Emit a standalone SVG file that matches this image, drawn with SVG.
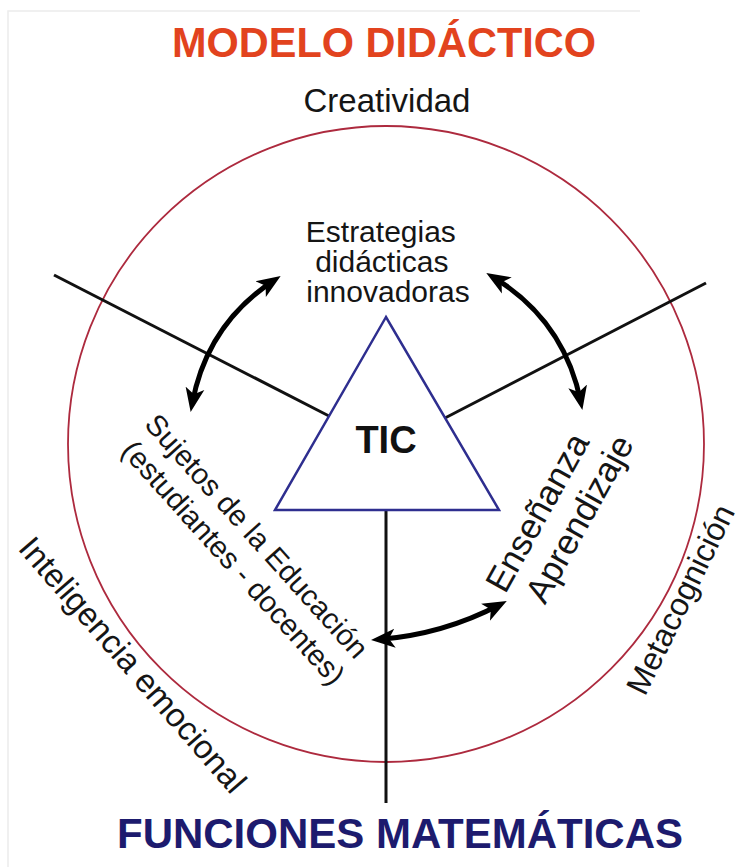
<svg xmlns="http://www.w3.org/2000/svg" width="747" height="867" viewBox="0 0 747 867">
  <style>
    .lbl { font-family: "Liberation Sans", Arial, sans-serif; fill: #151515; }
    .ttl { font-family: "Liberation Sans", Arial, sans-serif; font-weight: bold; }
    .spoke { stroke: #111; stroke-width: 3; fill: none; }
    .link { stroke: #000; stroke-width: 5; fill: none; marker-start: url(#head); marker-end: url(#head); }
  </style>
  <defs>
    <marker id="head" markerUnits="userSpaceOnUse" viewBox="0 0 24 20" refX="16" refY="10" markerWidth="24" markerHeight="20" orient="auto-start-reverse">
      <path d="M24,10 L0,0.5 L6,10 L0,19.5 Z" fill="#000"/>
    </marker>
  </defs>

  <rect width="747" height="867" fill="#fff"/>
  <!-- faint frame edges -->
  <path d="M8,867 V11 H640" stroke="#ececec" stroke-width="1.5" fill="none"/>

  <!-- headings -->
  <g id="title-top">
    <text class="ttl" x="384" y="57" font-size="42" fill="#e2431e" text-anchor="middle" textLength="424" lengthAdjust="spacingAndGlyphs">MODELO DIDÁCTICO</text>
  </g>
  <g id="title-bottom">
    <text class="ttl" x="400" y="848" font-size="42" fill="#1d1b6e" text-anchor="middle" textLength="566" lengthAdjust="spacingAndGlyphs">FUNCIONES MATEMÁTICAS</text>
  </g>

  <!-- outer ring -->
  <g id="ring">
    <circle cx="386" cy="444" r="318" fill="none" stroke="#ad2a3e" stroke-width="1.8"/>
  </g>

  <!-- connectors -->
  <g id="connectors">
    <line class="spoke" x1="54" y1="275" x2="329" y2="416"/>
    <line class="spoke" x1="706" y1="283" x2="445" y2="418"/>
    <line class="spoke" x1="386" y1="510" x2="386" y2="803"/>
    <path class="link" d="M274,280.3 Q206.6,324.7 192.1,404.1"/>
    <path class="link" d="M493.1,277.1 Q564.4,320.4 580.8,402.1"/>
    <path class="link" d="M379,639.5 Q443,634.5 499.7,604.8"/>
  </g>

  <!-- centre -->
  <g id="tic">
    <polygon points="386,317 275,510 499,510" fill="#fff" stroke="#2e2e8f" stroke-width="2.5"/>
    <text class="ttl" x="386" y="453" font-size="38" fill="#111" text-anchor="middle">TIC</text>
  </g>

  <!-- ring labels -->
  <g id="creatividad">
    <text class="lbl" x="387" y="112" font-size="33" text-anchor="middle">Creatividad</text>
  </g>
  <g id="inteligencia">
    <text class="lbl" font-size="33" transform="translate(17,549) rotate(49)">Inteligencia emocional</text>
  </g>
  <g id="metacognicion">
    <text class="lbl" font-size="32" transform="translate(645,697) rotate(-64)">Metacognición</text>
  </g>

  <!-- inner labels -->
  <g id="estrategias">
    <text class="lbl" font-size="30" text-anchor="middle">
      <tspan x="385" y="242">Estrategias</tspan>
      <tspan x="386" y="272">didácticas</tspan>
      <tspan x="388" y="302">innovadoras</tspan>
    </text>
  </g>
  <g id="sujetos">
    <text class="lbl" font-size="29.5" text-anchor="middle" transform="translate(252,546) rotate(48)">
      <tspan x="0" y="0">Sujetos de la Educación</tspan>
      <tspan x="0" y="35">(estudiantes - docentes)</tspan>
    </text>
  </g>
  <g id="ensenanza">
    <text class="lbl" font-size="35" text-anchor="middle" transform="translate(550,514) rotate(-61)">
      <tspan x="0" y="0">Enseñanza</tspan>
      <tspan x="10" y="40">Aprendizaje</tspan>
    </text>
  </g>
</svg>
